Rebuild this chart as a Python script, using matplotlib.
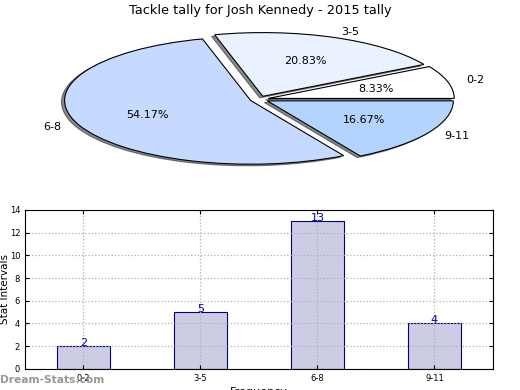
import matplotlib
matplotlib.use("Agg")
import matplotlib.pyplot as plt

# data
intervals = ["0-2", "3-5", "6-8", "9-11"]
counts = [2, 5, 13, 4]
pie_colors = ["#ffffff", "#ebf2ff", "#c6d9fe", "#b3d4ff"]

fig = plt.figure(figsize=(5.2, 3.9), dpi=100)

# pie chart (stretched, no equal aspect)
ax1 = fig.add_axes([0.037, 0.538, 0.923, 0.415])
wedges, texts, autotexts = ax1.pie(
    counts, labels=intervals, colors=pie_colors, explode=[0.05] * 4,
    autopct="%.2f%%", shadow=dict(ox=-0.012, oy=-0.018, shade=0.9),
    startangle=0,
    wedgeprops=dict(edgecolor="black", linewidth=0.8),
    textprops=dict(fontsize=8))
ax1.set_aspect("auto")
ax1.set_xlim(-1.29, 1.29)
ax1.set_ylim(-1.27, 1.27)
fig.text(0.5, 0.974, "Tackle tally for Josh Kennedy - 2015 tally",
         ha="center", va="center", fontsize=9.3)

# bar chart
ax2 = fig.add_axes([0.048, 0.054, 0.9, 0.408])
x = range(len(intervals))
ax2.bar(x, counts, width=0.45, color="#ccccE5", edgecolor="#000080",
        linewidth=0.8, zorder=2)
for xi, c in zip(x, counts):
    ax2.text(xi, c - 0.15, str(c), ha="center", va="bottom", fontsize=8,
             color="#0000aa", zorder=3)
ax2.set_xlim(-0.5, 3.5)
ax2.set_ylim(0, 14)
ax2.set_yticks(range(0, 15, 2))
ax2.set_xticks(list(x))
ax2.set_xticklabels(intervals)
ax2.tick_params(labelsize=6, direction="in", top=True, right=True, length=3)
ax2.grid(True, linestyle=":", color="#b0b0b0", linewidth=0.9, zorder=3)
ax2.set_axisbelow(False)
for sp in ax2.spines.values():
    sp.set_zorder(5)
ax2.set_ylabel("Stat Intervals", fontsize=7.5, labelpad=0)
ax2.set_xlabel("Frequency", fontsize=8, labelpad=3)

# watermark
fig.text(0.0, 0.025, "Dream-Stats.com", fontsize=7.7, fontweight="bold",
         color="#8c8c8c", alpha=0.9, ha="left", va="center")

fig.savefig("out.png", dpi=100)
